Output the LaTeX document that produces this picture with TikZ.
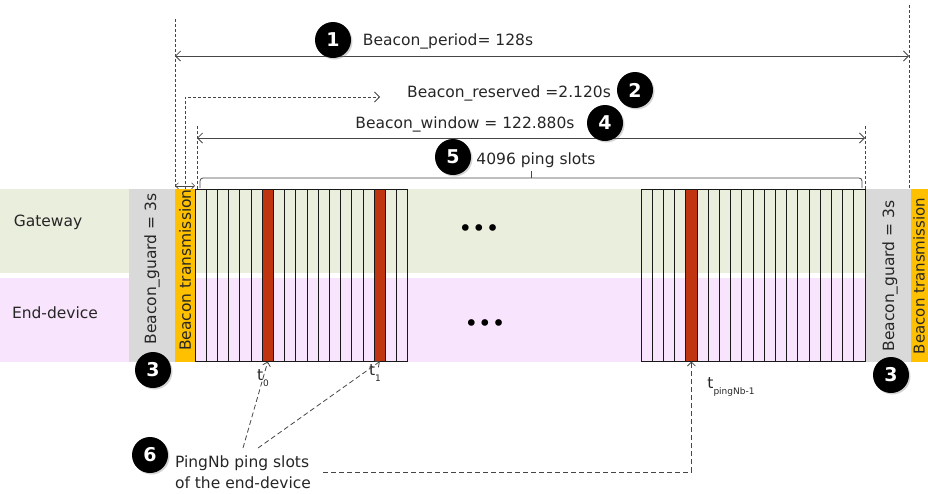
\documentclass[tikz,border=0pt]{standalone}
\usepackage{fontspec}
\setmainfont{DejaVu Sans}
\usetikzlibrary{arrows.meta, positioning, calc, shadows}
\definecolor{gwgreen}{RGB}{234,238,221}
\definecolor{edpink}{RGB}{248,228,252}
\definecolor{guardgray}{RGB}{217,217,217}
\definecolor{txyellow}{RGB}{255,192,0}
\definecolor{slotred}{RGB}{192,52,16}
\definecolor{inkgray}{RGB}{70,70,70}
\newcommand{\tslot}[1]{t\raisebox{-0.4em}{\fontsize{9}{9}\selectfont #1}}

\begin{document}
\begin{tikzpicture}[x=1pt, y=-1pt,
    band/.style={rectangle, inner sep=0, minimum width=928, minimum height=84},
    guardbox/.style={rectangle, fill=guardgray, inner sep=0, minimum width=46, minimum height=173},
    txbox/.style={rectangle, fill=txyellow, inner sep=0, minimum width=20, minimum height=173},
    slot/.style={rectangle, draw=black!90, line width=1pt, inner sep=0, minimum width=11.2, minimum height=172},
    lbl/.style={font=\fontsize{15.5}{18}\selectfont, text=black!85, inner sep=1pt},
    numdot/.style={circle, fill=black, minimum size=36, inner sep=0, text=white, font=\bfseries\fontsize{19}{19}\selectfont,
                   drop shadow={opacity=0.35, shadow xshift=1.5pt, shadow yshift=-1.5pt}},
    guide/.style={inkgray, line width=0.8pt, dash pattern=on 3pt off 2pt},
    dim/.style={inkgray, line width=0.8pt, {Straight Barb[length=5pt,width=10pt]}-{Straight Barb[length=5pt,width=10pt]}},
    pointer/.style={inkgray, line width=0.8pt, dash pattern=on 5pt off 3pt, -{Straight Barb[length=4pt,width=8pt]}}
]
    \useasboundingbox (0,0) rectangle (928,493);

    % Lanes
    \node[band, fill=gwgreen] (gw) at (464,231) {};
    \node[band, fill=edpink] (ed) at (464,320) {};
    \node[lbl] (gwname) at (48,222) {Gateway};
    \node[lbl] (edname) at (55,313) {End-device};

    % Guard and beacon blocks
    \node[guardbox] (guardL) at (152,275.5) {};
    \node[txbox] (txL) at (185,275.5) {};
    \node[guardbox] (guardR) at (888,275.5) {};
    \node[txbox, minimum width=18] (txR) at (920,275.5) {};
    \node[lbl, rotate=90] (guardLtext) at (152,269) {Beacon\_guard = 3s};
    \node[lbl, rotate=90, inner sep=0] (txLtext) at (185,270) {Beacon transmission};
    \node[lbl, rotate=90] (guardRtext) at (890,276) {Beacon\_guard = 3s};
    \node[lbl, rotate=90, inner sep=0, font=\fontsize{15}{18}\selectfont] (txRtext) at (919,276) {Beacon transmission};

    % Ping slots
    \foreach \i in {0,...,18}
        \node[slot] (sa\i) at ({200.6+11.2*\i},275) {};
    \foreach \i in {0,...,19}
        \node[slot] (sb\i) at ({646.6+11.2*\i},275) {};
    \node[slot, fill=slotred] (p0) at (sa6) {};
    \node[slot, fill=slotred] (p1) at (sa16) {};
    \node[slot, fill=slotred] (p2) at (sb4) {};
    \node[font=\fontsize{23}{23}\selectfont] (dotsgw) at (479,231) {\textbullet\textbullet\textbullet};
    \node[font=\fontsize{23}{23}\selectfont] (dotsed) at (485,326) {\textbullet\textbullet\textbullet};

    % Guide lines
    \coordinate (perL) at (175,19);
    \coordinate (perR) at (909,5);
    \coordinate (resL) at (185,97);
    \coordinate (resR) at (380,97);
    \coordinate (winL) at (197,126);
    \coordinate (winR) at (865,126);
    \draw[guide] (perL) -- (perL |- gw.north);
    \draw[guide] (perR) -- (perR |- gw.north);
    \draw[guide] (winL) -- (winL |- gw.north);
    \draw[guide] (winR) -- (winR |- gw.north);
    \draw[guide, -{Straight Barb[length=5pt,width=10pt]}] (resL |- gw.north) -- (resL) -- (resR);
    \draw[dim, line width=0.6pt, {Straight Barb[length=3pt,width=6pt]}-{Straight Barb[length=3pt,width=6pt]}] ($(perL |- gw.north)+(0,-3)$) -- ($(winL |- gw.north)+(-2,-3)$);

    % Durations
    \draw[dim] (perL |- 0,56) -- (perR |- 0,56);
    \node[lbl] (pertext) at (448,41) {Beacon\_period= 128s};
    \node[numdot] (n1) at (333,40) {1};

    \node[lbl] (restext) at (509,93) {Beacon\_reserved =2.120s};
    \node[numdot] (n2) at (635,90) {2};

    \draw[dim] (winL |- 0,138) -- (winR |- 0,138);
    \node[lbl] (wintext) at (465,124) {Beacon\_window = 122.880s};
    \node[numdot] (n4) at (605,123) {4};

    \draw[inkgray, line width=0.8pt, rounded corners=3pt] (200,188) -- (200,178) -- (862,178) -- (862,188);
    \draw[inkgray, line width=0.8pt] (531,178) -- (531,171);
    \node[lbl] (slotstext) at (536,160) {4096 ping slots};
    \node[numdot] (n5) at (453,157) {5};

    \node[numdot] (n3L) at (153,370) {3};
    \node[numdot] (n3R) at (891,375) {3};

    % Ping slot times
    \node[lbl] (t0) at (263,378) {\tslot{0}};
    \node[lbl] (t1) at (375,373) {\tslot{1}};
    \node[lbl] (tN) at (731,387) {\tslot{pingNb-1}};

    \node[numdot] (n6) at (150,455) {6};
    \node[lbl, align=left, inner sep=0, font=\fontsize{15.5}{21}\selectfont] (pingnb) at (243,472) {PingNb ping slots\\of the end-device};
    \coordinate (fromA) at (243,448);
    \coordinate (fromB) at (258,448);
    \coordinate (fromC) at (323,472);
    \draw[pointer] (fromA) -- (p0.south);
    \draw[pointer] (fromB) -- (p1.south);
    \draw[pointer] (fromC) -| (p2.south);
\end{tikzpicture}
\end{document}
